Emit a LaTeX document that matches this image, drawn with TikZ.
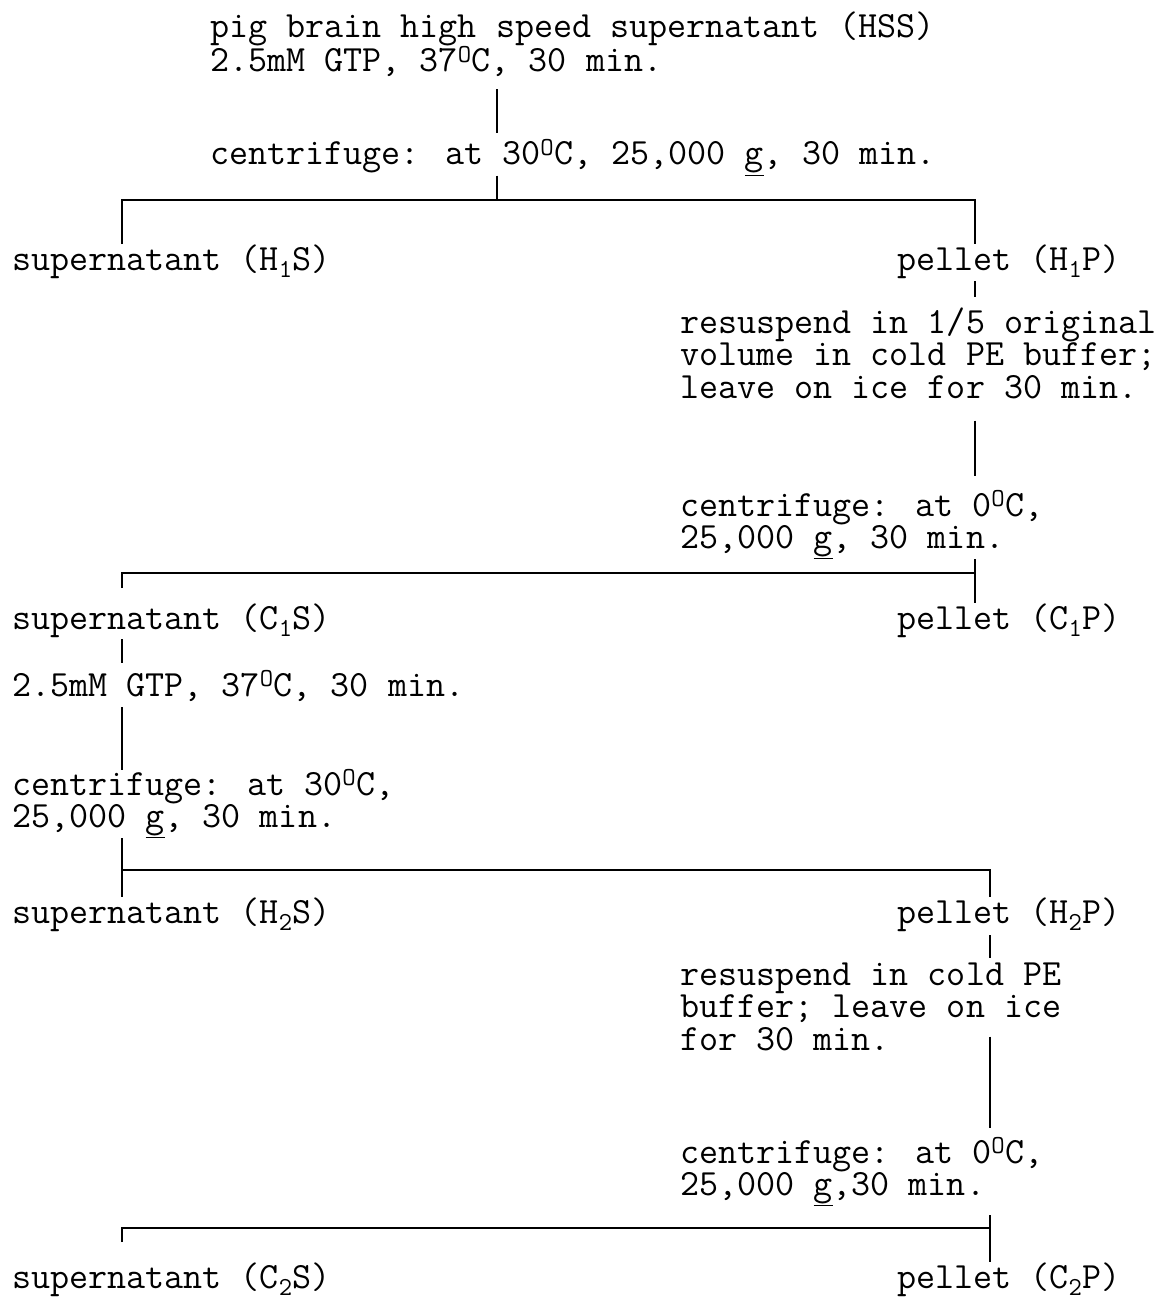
\documentclass[tikz,border=0pt]{standalone}
\usepackage{fontspec}
\newcommand{\degO}{\textsuperscript{O}}
\newcommand{\sbn}[1]{\textsubscript{#1}}
\begin{document}
\begin{tikzpicture}[
		x=1pt, y=-1pt,
		every node/.style={
				inner sep=0pt,
				anchor=base west,
				align=left,
				font=\fontsize{37}{32.5}\selectfont\ttfamily
			},
		link/.style={
				draw,
				line width=2.8pt
			}
	]
	\useasboundingbox (0,0) rectangle (1171,1300);
	% columns of the connectors
	\coordinate (colA) at (497,0);
	\coordinate (colL) at (122,0);
	\coordinate (colR) at (975,0);
	\coordinate (colS) at (990,0);
	\coordinate (bar1) at (0,200);
	\coordinate (bar2) at (0,573);
	\coordinate (bar3) at (0,870);
	\coordinate (bar4) at (0,1228);

	% multi-line nodes sit on their last line
	\node (hss) at (210,72) {pig brain high speed supernatant (HSS)\\2.5mM GTP, 37\degO C, 30 min.};
	\node (cf1) at (210,165) {centrifuge: at 30\degO C, 25,000 \underline{g}, 30 min.};
	\node (h1s) at (12,270) {supernatant (H\sbn{1}S)};
	\node (h1p) at (897,270) {pellet (H\sbn{1}P)};
	\node (rs1) at (680,398) {resuspend in 1/5 original\\volume in cold PE buffer;\\leave on ice for 30 min.};
	\node (cf2) at (680,548.5) {centrifuge: at 0\degO C,\\25,000 \underline{g}, 30 min.};
	\node (c1s) at (12,629) {supernatant (C\sbn{1}S)};
	\node (c1p) at (897,629) {pellet (C\sbn{1}P)};
	\node (gtp) at (12,696) {2.5mM GTP, 37\degO C, 30 min.};
	\node (cf3) at (12,827.5) {centrifuge: at 30\degO C,\\25,000 \underline{g}, 30 min.};
	\node (h2s) at (12,923) {supernatant (H\sbn{2}S)};
	\node (h2p) at (897,923) {pellet (H\sbn{2}P)};
	\node (rs2) at (680,1050) {resuspend in cold PE\\buffer; leave on ice\\for 30 min.};
	\node (cf4) at (680,1195.5) {centrifuge: at 0\degO C,\\25,000 \underline{g},30 min.};
	\node (c2s) at (12,1288) {supernatant (C\sbn{2}S)};
	\node (c2p) at (897,1288) {pellet (C\sbn{2}P)};

	% first spin
	\draw[link, shorten <=12pt, shorten >=7pt] (hss.south -| colA) -- (cf1.north -| colA);
	\draw[link] (cf1.south -| colA) -- (bar1 -| colA);
	\draw[link] (h1s.north -| colL) |- (bar1 -| colR) -- (h1p.north -| colR);
	% cold step
	\draw[link, shorten <=3pt, shorten >=10pt] (h1p.south -| colR) -- (rs1.north -| colR);
	\draw[link, shorten <=22pt, shorten >=15pt] (rs1.south -| colR) -- (cf2.north -| colR);
	\draw[link] (cf2.south -| colR) -- (c1p.north -| colR);
	\draw[link, shorten <=15pt] (c1s.north -| colL) |- (bar2 -| colR);
	% second warm step
	\draw[link, shorten <=2pt, shorten >=8pt] (c1s.south -| colL) -- (gtp.north -| colL);
	\draw[link, shorten <=6pt] (gtp.south -| colL) -- (cf3.north -| colL);
	\draw[link] (cf3.south -| colL) -- (h2s.north -| colL);
	\draw[link] (bar3 -| colL) -| (h2p.north -| colS);
	% second cold step
	\draw[link, shorten <=4pt, shorten >=4pt] (h2p.south -| colS) -- (rs2.north -| colS);
	\draw[link, shorten >=10pt] ([yshift=14pt]rs2.south -| colS) -- (cf4.north -| colS);
	\draw[link, shorten <=9pt] (cf4.south -| colS) -- (c2p.north -| colS);
	\draw[link, shorten <=20pt] (c2s.north -| colL) |- (bar4 -| colS);
\end{tikzpicture}
\end{document}
